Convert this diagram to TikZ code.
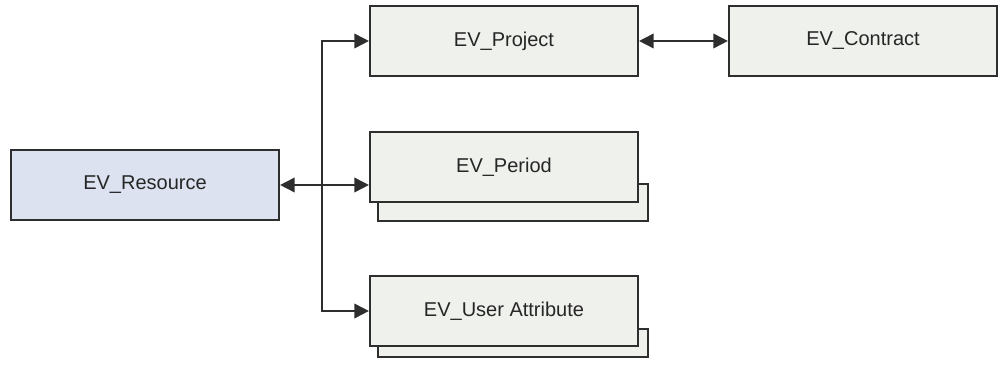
\documentclass[tikz,border=0pt]{standalone}
\usepackage{fontspec}
\setmainfont{Liberation Sans}
\usetikzlibrary{arrows.meta}
\definecolor{boxline}{HTML}{2E2E2E}
\definecolor{resfill}{HTML}{DCE2F0}
\definecolor{entfill}{HTML}{EFF1ED}
\begin{document}
\begin{tikzpicture}[x=0.75pt,y=-0.75pt,
  entity/.style={draw=boxline,line width=1.6pt,fill=entfill,minimum width=201pt,minimum height=53pt,
    inner sep=0pt,font=\fontsize{15}{18}\selectfont,text=black!85},
  resbox/.style={entity,fill=resfill},
  backbox/.style={draw=boxline,line width=1.6pt,fill=entfill},
  link/.style={draw=boxline,line width=1.3pt,-{Triangle[length=11pt,width=11pt]}},
  link2/.style={link,{Triangle[length=11pt,width=11pt]}-{Triangle[length=11pt,width=11pt]}}]
\useasboundingbox (0,0) rectangle (1000,366);
% stacked copies behind the multi-row entities
\path[backbox] (378,184) rectangle (648,221);
\path[backbox] (378,329) rectangle (648,357);
% entities
\node[resbox] (res) at (145,185) {EV\_Resource};
\node[entity] (proj) at (504,41) {EV\_Project};
\node[entity] (contr) at (863,41) {EV\_Contract};
\node[entity] (per) at (504,167) {EV\_Period};
\node[entity] (usr) at (504,311) {EV\_User Attribute};
% connectors
\coordinate (hub) at (322,185);
\draw[link2] (res.east) -- (res.east -| per.west);
\draw[link] (hub) |- (proj.west);
\draw[link] (hub) |- (usr.west);
\draw[link2] (proj.east) -- (contr.west);
\end{tikzpicture}
\end{document}
